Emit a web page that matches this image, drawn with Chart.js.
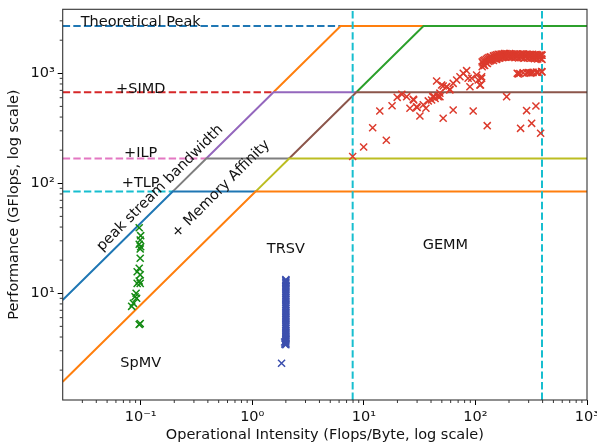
<!DOCTYPE html>
<html>
<head>
<meta charset="utf-8">
<script src="https://cdn.jsdelivr.net/npm/chart.js@4.4.1/dist/chart.umd.min.js"></script>
<style>
  html, body { margin: 0; padding: 0; background: #fff; }
  canvas { display: block; }
</style>
</head>
<body>
<canvas id="roofline" width="597" height="448"></canvas>
<script>
// compute ceilings (GFlops) and memory roofs (GB/s)
var ceilingNames = ["Theoretical Peak", "+SIMD", "+ILP", "+TLP"];
var ceilings = [2688, 672, 168, 84];
var bandwidthNames = ["peak stream bandwidth", "+ Memory Affinity"];
var bandwidths = [434, 78.5];

// axis ticks
var xTicks = [0.1, 1, 10, 100, 1000];
var xTickLabels = ["10⁻¹", "10⁰", "10¹", "10²", "10³"];
var yTicks = [10, 100, 1000];
var yTickLabels = ["10¹", "10²", "10³"];

// GEMM intensity range (vertical dashed lines)
var gemmRange = [7.94, 395];

// measured kernels
var spmvX = [0.097, 0.1, 0.099, 0.097, 0.1, 0.099, 0.099, 0.097, 0.093, 0.099, 0.097, 0.093, 0.099, 0.091, 0.089, 0.092, 0.086, 0.083, 0.097, 0.099];
var spmvY = [39.4, 33.4, 30.5, 27.9, 26.5, 25.3, 20.8, 16.9, 15.7, 14.7, 12.9, 12.3, 12.3, 10, 9.3, 9.0, 8.1, 7.6, 5.2, 5.3];

var trsvX = [1.83, 1.96, 1.95, 2.0, 2.0, 2.0, 2.0, 2.0, 2.0, 2.0, 2.0, 2.0, 2.0, 2.0, 2.0, 2.0, 2.0, 2.0, 2.0, 2.0, 2.0, 2.0, 2.0, 2.0,
             2.0, 2.0, 2.0, 2.0, 2.0, 2.0, 2.0, 2.0, 2.0, 2.0, 2.0, 2.0, 2.0, 2.0, 2.0, 2.0, 2.0, 2.0, 2.0, 2.0];
var trsvY = [2.31, 3.45, 3.6, 3.4, 3.5, 3.6, 3.7, 3.8, 3.9, 4.0, 4.15, 4.3, 4.45, 4.6, 4.8, 5.0, 5.2, 5.4, 5.6, 5.8, 6.0, 6.25, 6.5, 6.75,
             7.0, 7.3, 7.6, 7.9, 8.2, 8.5, 8.8, 9.1, 9.5, 9.9, 10.3, 10.7, 11.1, 11.5, 11.9, 12.3, 12.6, 12.9, 13.1, 13.3];

var gemmX = [7.94, 9.96, 12.0, 13.9, 15.9, 17.9, 19.9, 21.9, 24.2, 25.9, 27.7, 29.7, 31.8, 34.1, 36.0, 37.8, 40.5, 42.5, 44.9, 48.1,
             49.8, 51.4, 55.2, 59.1, 63.2, 63.2, 67.9, 72.7, 77.8, 83.4, 89.3, 95.5, 92.5, 102.5, 109.7, 113.6, 117.5, 127.6, 134.9, 154.8,
             190.4, 177.4, 203.6, 242, 254, 268, 287.5, 287.5, 319, 319, 348.6, 352, 384, 392, 392, 46.4, 41.5, 43.5, 48, 30,
             28, 51.4, 55, 59, 86, 106, 111, 113.6, 237, 268, 297, 329, 364, 395, 250, 310,
             115, 115, 118, 118, 121, 121, 125, 125, 128, 128, 132, 132, 136, 136, 140, 140, 145, 145, 150, 150,
             155, 155, 160, 160, 165, 165, 170, 170, 176, 176, 182, 182, 188, 188, 195, 195, 202, 202, 210, 210,
             218, 218, 226, 226, 235, 235, 244, 244, 253, 253, 262, 262, 272, 272, 282, 282, 292, 292, 303, 303,
             314, 314, 326, 326, 338, 338, 350, 350, 362, 362, 375, 375, 388, 388, 395, 395];
var gemmY = [175, 214, 320, 454, 246, 507, 605, 644, 613, 481, 581, 497, 409, 518, 481, 561, 572, 613, 851, 613,
             783, 390, 755, 716, 464, 811, 869, 931, 1000, 1057, 755, 454, 901, 966, 783, 901, 1233, 334, 1322, 1368,
             613, 1416, 1499, 986, 316, 1499, 458, 1012, 351, 1012, 505, 1025, 285, 1037, 1466, 613, 613, 590, 660, 490,
             572, 766, 755, 706, 901, 869, 783, 931, 1000, 1010, 1015, 1020, 1020, 1030, 995, 1005,
             1150, 1270, 1190, 1300, 1180, 1320, 1240, 1340, 1230, 1370, 1280, 1390, 1300, 1410, 1320, 1400, 1310, 1440, 1350, 1460,
             1340, 1470, 1380, 1490, 1370, 1480, 1400, 1500, 1390, 1500, 1410, 1510, 1400, 1510, 1420, 1500, 1410, 1510, 1400, 1500,
             1420, 1500, 1390, 1490, 1410, 1500, 1380, 1490, 1400, 1500, 1390, 1500, 1370, 1490, 1400, 1480, 1380, 1490, 1390, 1480,
             1370, 1480, 1380, 1490, 1360, 1470, 1370, 1480, 1350, 1470, 1380, 1460, 1360, 1470, 1340, 1460];

var xMin = 0.02, xMax = 1000, yMin = 1.07, yMax = 3820;
var C = ['#1f77b4', '#ff7f0e', '#2ca02c', '#d62728', '#9467bd', '#8c564b', '#e377c2', '#7f7f7f', '#bcbd22', '#17becf'];
var FONT = '"DejaVu Sans", sans-serif';

function pts(xs, ys) {
  return xs.map(function (x, i) { return { x: x, y: ys[i] }; });
}

// rooflines in matplotlib colour order (dashed ceiling, then one roof per bandwidth);
// each roof is only drawn where a later one would not cover it
var lineSets = [];
var k = 0;
ceilings.forEach(function (p, i) {
  lineSets.push({
    data: [{ x: xMin, y: p }, { x: p / bandwidths[0], y: p }],
    borderColor: C[k % 10], borderDash: [7.4, 3.2]
  });
  k++;
  bandwidths.forEach(function (b, j) {
    var x0 = i < ceilings.length - 1 ? ceilings[i + 1] / b : xMin;
    var x1 = j === 0 ? p / bandwidths[1] : xMax;
    lineSets.push({
      data: [{ x: x0, y: b * x0 }, { x: p / b, y: p }, { x: x1, y: p }],
      borderColor: C[k % 10]
    });
    k++;
  });
});
lineSets.forEach(function (d) {
  d.showLine = true; d.pointRadius = 0; d.borderWidth = 2; d.fill = false;
});

var verticals = gemmRange.map(function (v) {
  return {
    data: [{ x: v, y: yMin }, { x: v, y: yMax }],
    showLine: true, pointRadius: 0, borderWidth: 2, borderColor: '#17becf', borderDash: [7.4, 3.2]
  };
});

function marks(xs, ys, color) {
  return {
    data: pts(xs, ys), showLine: false, pointStyle: 'crossRot', pointRadius: 5,
    pointBorderWidth: 1.5, borderColor: color, backgroundColor: color
  };
}

// first dataset is drawn on top in Chart.js
var datasets = [
  marks(gemmX, gemmY, '#dc3a2c'),
  marks(trsvX, trsvY, '#3c4fae'),
  marks(spmvX, spmvY, '#138a13')
].concat(verticals).concat(lineSets.slice().reverse());

var notes = [
  { text: ceilingNames[0], x: 0.1, y: 2720 },
  { text: ceilingNames[1], x: 0.1, y: 666 },
  { text: ceilingNames[2], x: 0.1, y: 174.5 },
  { text: ceilingNames[3], x: 0.1, y: 91.9 },
  { text: "TRSV", x: 2.0, y: 23.1 },
  { text: "GEMM", x: 53.8, y: 25.4 },
  { text: "SpMV", x: 0.1, y: 2.15 }
];
var slanted = [
  { text: bandwidthNames[0], x: 0.149, y: 90.6 },
  { text: bandwidthNames[1], x: 0.524, y: 88.7 }
];

var decor = {
  id: 'decor',
  afterDatasetsDraw: function (chart) {
    var ctx = chart.ctx, xs = chart.scales.x, ys = chart.scales.y;
    ctx.save();
    ctx.fillStyle = '#111';
    ctx.font = '14.5px ' + FONT;
    ctx.textAlign = 'center';
    ctx.textBaseline = 'alphabetic';
    notes.forEach(function (n) {
      ctx.fillText(n.text, xs.getPixelForValue(n.x), ys.getPixelForValue(n.y));
    });
    ctx.textBaseline = 'middle';
    slanted.forEach(function (n) {
      ctx.save();
      ctx.translate(xs.getPixelForValue(n.x), ys.getPixelForValue(n.y));
      ctx.rotate(-Math.PI / 4);
      ctx.fillText(n.text, 0, 0);
      ctx.restore();
    });
    ctx.restore();
  },
  afterDraw: function (chart) {
    var ctx = chart.ctx, a = chart.chartArea, xs = chart.scales.x, ys = chart.scales.y;
    ctx.save();
    // minor ticks
    ctx.strokeStyle = '#000';
    ctx.lineWidth = 0.8;
    ctx.beginPath();
    for (var e = -2; e <= 3; e++) {
      for (var m = 2; m <= 9; m++) {
        var v = m * Math.pow(10, e);
        if (v > xMin && v < xMax) {
          var px = xs.getPixelForValue(v);
          ctx.moveTo(px, a.bottom); ctx.lineTo(px, a.bottom + 3);
        }
        if (v > yMin && v < yMax) {
          var py = ys.getPixelForValue(v);
          ctx.moveTo(a.left, py); ctx.lineTo(a.left - 3, py);
        }
      }
    }
    ctx.stroke();
    // frame
    ctx.strokeStyle = '#333';
    ctx.lineWidth = 1.1;
    ctx.strokeRect(a.left, a.top, a.right - a.left, a.bottom - a.top);
    // axis titles
    ctx.fillStyle = '#111';
    ctx.font = '14.5px ' + FONT;
    ctx.textAlign = 'center';
    ctx.textBaseline = 'alphabetic';
    ctx.fillText('Operational Intensity (Flops/Byte, log scale)', (a.left + a.right) / 2, 439);
    ctx.translate(17.5, (a.top + a.bottom) / 2);
    ctx.rotate(-Math.PI / 2);
    ctx.fillText('Performance (GFlops, log scale)', 0, 0);
    ctx.restore();
  }
};

new Chart(document.getElementById('roofline').getContext('2d'), {
  type: 'scatter',
  data: { datasets: datasets },
  options: {
    responsive: false,
    animation: false,
    layout: { padding: { top: 9.3, right: 10, left: 0, bottom: 0 } },
    plugins: { legend: { display: false }, tooltip: { enabled: false } },
    scales: {
      x: {
        type: 'logarithmic', min: xMin, max: xMax,
        afterBuildTicks: function (s) { s.ticks = xTicks.map(function (v) { return { value: v }; }); },
        afterFit: function (s) { s.height = 48; s.paddingLeft = 0; s.paddingRight = 0; },
        ticks: {
          autoSkip: false, maxRotation: 0, padding: 4, color: '#111',
          font: { family: FONT, size: 14.5 },
          callback: function (v) { var i = xTicks.indexOf(v); return i < 0 ? '' : xTickLabels[i]; }
        },
        grid: { drawOnChartArea: false, drawTicks: true, tickLength: 5, color: '#000', lineWidth: 1 },
        border: { display: false }
      },
      y: {
        type: 'logarithmic', min: yMin, max: yMax,
        afterBuildTicks: function (s) { s.ticks = yTicks.map(function (v) { return { value: v }; }); },
        afterFit: function (s) { s.width = 62.7; s.paddingTop = 0; s.paddingBottom = 0; },
        ticks: {
          autoSkip: false, padding: 3, color: '#111',
          font: { family: FONT, size: 14.5 },
          callback: function (v) { var i = yTicks.indexOf(v); return i < 0 ? '' : yTickLabels[i]; }
        },
        grid: { drawOnChartArea: false, drawTicks: true, tickLength: 5, color: '#000', lineWidth: 1 },
        border: { display: false }
      }
    }
  },
  plugins: [decor]
});
</script>
</body>
</html>
